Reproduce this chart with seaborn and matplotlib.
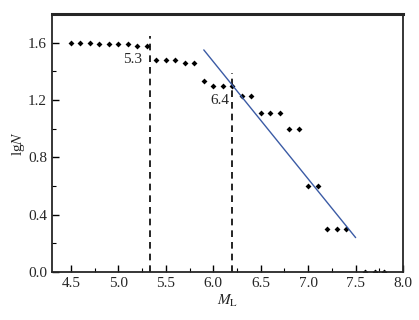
import matplotlib
matplotlib.use("Agg")
import matplotlib.pyplot as plt
import numpy as np
import pandas as pd
import seaborn as sns
from matplotlib.ticker import MultipleLocator

# magnitude M_L vs lgN
ml = [4.5, 4.6, 4.7, 4.8, 4.9, 5.0, 5.1, 5.2, 5.3,
      5.4, 5.5, 5.6, 5.7, 5.8,
      5.9, 6.0, 6.1, 6.2, 6.3, 6.4,
      6.5, 6.6, 6.7, 6.8, 6.9, 7.0, 7.1, 7.2, 7.3, 7.4,
      7.6, 7.7, 7.8]
lgn = [1.60, 1.60, 1.60, 1.59, 1.59, 1.59, 1.59, 1.58, 1.58,
       1.48, 1.48, 1.48, 1.46, 1.46,
       1.33, 1.30, 1.30, 1.30, 1.23, 1.23,
       1.11, 1.11, 1.11, 1.00, 1.00, 0.60, 0.60, 0.30, 0.30, 0.30,
       0.0, 0.0, 0.0]

fit_x = [5.9, 7.5]
fit_y = [1.55, 0.24]

cut_x = [5.33, 6.20]
cut_top = [1.65, 1.39]
cut_labels = ["5.3", "6.4"]
label_pos = [(5.25, 1.48), (6.17, 1.20)]

df = pd.DataFrame({"ml": ml, "lgn": lgn})
fit = pd.DataFrame({"ml": fit_x, "lgn": fit_y})

sns.set_style("ticks")
plt.rcParams["font.family"] = ["Liberation Serif", "DejaVu Serif"]
plt.rcParams["mathtext.fontset"] = "stix"

fig, ax = plt.subplots(figsize=(4.19, 3.2), dpi=100)
fig.subplots_adjust(left=0.124, right=0.962, bottom=0.15, top=0.956)

sns.scatterplot(data=df, x="ml", y="lgn", marker="D", s=9, color="black",
                edgecolor="black", linewidth=0, ax=ax, zorder=2)
sns.lineplot(data=fit, x="ml", y="lgn", color="#3b5ba5", linewidth=1.0, ax=ax, zorder=3)

for xv, top, lab, (tx, ty) in zip(cut_x, cut_top, cut_labels, label_pos):
    ax.plot([xv, xv], [0, top], color="black", linestyle=(0, (4, 3)), linewidth=1.2)
    ax.text(tx, ty, lab, ha="right", va="center", fontsize=11)

ax.set_xlim(4.3, 8.0)
ax.set_ylim(0, 1.8)
ax.set_xticks([4.5, 5.0, 5.5, 6.0, 6.5, 7.0, 7.5, 8.0])
ax.set_yticks([0.0, 0.4, 0.8, 1.2, 1.6])
ax.xaxis.set_minor_locator(MultipleLocator(0.25))
ax.yaxis.set_minor_locator(MultipleLocator(0.2))
ax.xaxis.set_major_formatter(matplotlib.ticker.FormatStrFormatter("%.1f"))
ax.yaxis.set_major_formatter(matplotlib.ticker.FormatStrFormatter("%.1f"))
ax.tick_params(which="both", direction="in", labelsize=11, color="black")
ax.tick_params(which="major", length=5, width=1)
ax.tick_params(which="minor", length=3, width=0.8)

for side in ["left", "bottom", "right"]:
    ax.spines[side].set_linewidth(1.3)
    ax.spines[side].set_visible(True)
ax.spines["top"].set_visible(True)
ax.spines["top"].set_linewidth(2.2)

ax.set_xlabel(r"$M_{\mathrm{L}}$", fontsize=11, labelpad=2)
ax.set_ylabel(r"lg$N$", fontsize=11, labelpad=1)

fig.savefig("out.png", dpi=100)
